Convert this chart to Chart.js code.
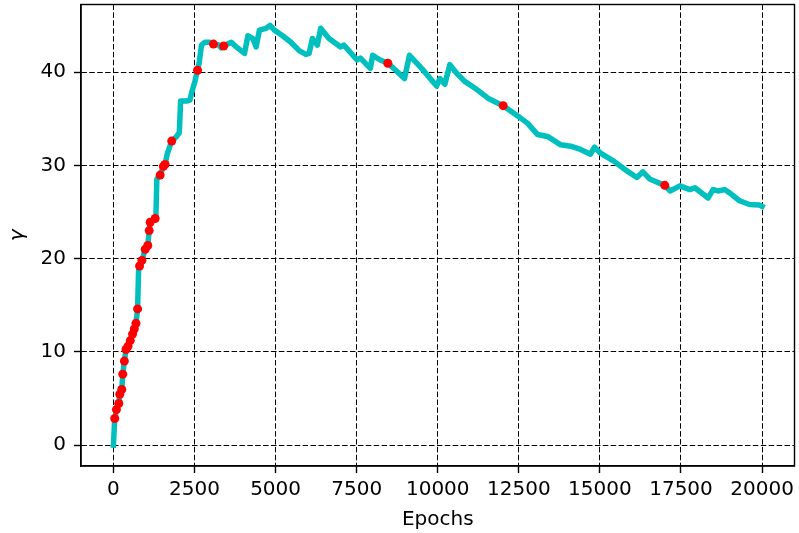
<!DOCTYPE html>
<html>
<head>
<meta charset="utf-8">
<script src="https://cdn.jsdelivr.net/npm/chart.js@4"></script>
<style>
  html, body { margin: 0; padding: 0; background: #fff; }
  canvas { display: block; }
</style>
</head>
<body>
<canvas id="chart" width="799" height="533"></canvas>
<script>
// gamma over training epochs
const epochs = [0, 40, 92, 165, 196, 257, 288, 337, 388, 450, 520, 590, 643, 695, 745, 775, 806, 878, 980, 1060,
  1103, 1133, 1286, 1310, 1338, 1440, 1541, 1593, 1664, 1797, 1950, 2031, 2072, 2256, 2358, 2409, 2511, 2593, 2643, 2715,
  2818, 2971, 3084, 3250, 3318, 3400, 3634, 3788, 4042, 4145, 4298, 4400, 4502, 4706, 4828, 4962, 5217, 5472, 5727, 5931,
  6033, 6135, 6288, 6390, 6646, 7004, 7105, 7514, 7616, 7922, 7993, 8228, 8461, 8686, 8974, 9127, 9504, 9964, 10066, 10219,
  10372, 10576, 10832, 11138, 11547, 12016, 12466, 12772, 13078, 13384, 13792, 14098, 14404, 14710, 14834, 15017, 15426, 15834, 16141, 16325,
  16549, 17000, 17162, 17469, 17775, 17928, 18336, 18489, 18642, 18846, 18999, 19305, 19611, 19917, 20000];
const gamma = [0, 2.85, 3.8, 4.45, 5.45, 5.95, 7.6, 9.0, 10.25, 10.6, 11.2, 11.9, 12.45, 13.05, 14.6, 18.7, 19.2, 19.8, 21.0, 21.4,
  23.0, 23.9, 24.3, 24.5, 28.5, 28.95, 29.9, 30.1, 31.3, 32.6, 33.1, 33.5, 36.9, 36.9, 37.0, 37.75, 39.0, 40.2, 40.95, 42.9,
  43.2, 43.2, 43.0, 42.9, 42.6, 42.8, 43.2, 42.7, 42.0, 43.9, 43.6, 42.7, 44.5, 44.7, 45.0, 44.5, 43.9, 43.2, 42.3, 41.9,
  42.0, 43.6, 42.9, 44.7, 43.6, 42.7, 42.9, 41.3, 41.5, 40.4, 41.8, 41.3, 40.95, 40.25, 39.3, 41.8, 40.4, 38.5, 39.3, 38.7,
  40.8, 39.9, 39.0, 38.3, 37.2, 36.4, 35.3, 34.5, 33.3, 33.1, 32.2, 32.05, 31.7, 31.2, 31.95, 31.3, 30.45, 29.4, 28.7, 29.3,
  28.5, 27.85, 27.25, 27.8, 27.4, 27.6, 26.5, 27.4, 27.25, 27.4, 27.05, 26.2, 25.8, 25.75, 25.6];

// red markers
const dotEpochs = [40, 92, 165, 196, 257, 288, 337, 388, 450, 520, 590, 643, 695, 745, 806, 878, 980, 1060, 1103, 1133,
  1286, 1440, 1541, 1593, 1797, 2593, 3084, 3400, 8461, 12016, 17000];
const dotGamma = [2.85, 3.8, 4.45, 5.45, 5.95, 7.6, 9.0, 10.25, 10.6, 11.2, 11.9, 12.45, 13.05, 14.6, 19.2, 19.8, 21.0, 21.4, 23.0, 23.9,
  24.3, 28.95, 29.9, 30.1, 32.6, 40.2, 43.0, 42.8, 40.95, 36.4, 27.85];

const xTicks = [0, 2500, 5000, 7500, 10000, 12500, 15000, 17500, 20000];
const yTicks = [0, 10, 20, 30, 40];

const FONT = "'DejaVu Sans'";
const tickFont = { family: FONT, size: 20 };
const dash = [5.5, 2.4];

// frame on all four sides, like matplotlib spines
const frame = {
  id: "frame",
  afterDraw(chart) {
    const { ctx, chartArea: a } = chart;
    ctx.save();
    ctx.strokeStyle = "#000";
    ctx.lineWidth = 1.4;
    ctx.strokeRect(a.left, a.top, a.right - a.left, a.bottom - a.top);
    ctx.restore();
  }
};

new Chart(document.getElementById("chart"), {
  type: "line",
  data: {
    datasets: [
      {
        data: dotEpochs.map((x, i) => ({ x, y: dotGamma[i] })),
        showLine: false,
        pointRadius: 4.5,
        pointBackgroundColor: "#ff0000",
        pointBorderWidth: 0,
        order: 0
      },
      {
        data: epochs.map((x, i) => ({ x, y: gamma[i] })),
        borderColor: "#00bfbf",
        borderWidth: 5.5,
        borderJoinStyle: "round",
        borderCapStyle: "square",
        pointRadius: 0,
        tension: 0,
        order: 1
      }
    ]
  },
  options: {
    responsive: false,
    animation: false,
    devicePixelRatio: 1,
    layout: { padding: { top: 3, right: 3, left: 0, bottom: 0 } },
    plugins: { legend: { display: false }, tooltip: { enabled: false } },
    scales: {
      x: {
        type: "linear",
        min: -1000,
        max: 21000,
        afterBuildTicks: (s) => { s.ticks = xTicks.map((v) => ({ value: v })); },
        afterFit: (s) => { s.height = 67; s.paddingLeft = 0; s.paddingRight = 0; },
        ticks: { font: tickFont, color: "#000", padding: 5, maxRotation: 0, autoSkip: false, callback: (v) => String(v) },
        grid: { color: "#000", lineWidth: 1, tickLength: 7, tickColor: "#000", tickWidth: 1.4 },
        border: { display: true, color: "#000", width: 1.4, dash: dash },
        title: { display: true, text: "Epochs", font: tickFont, color: "#000", padding: { top: 2, bottom: 1 } }
      },
      y: {
        min: -2.25,
        max: 47.25,
        afterBuildTicks: (s) => { s.ticks = yTicks.map((v) => ({ value: v })); },
        afterFit: (s) => { s.width = 81; s.paddingTop = 0; s.paddingBottom = 0; },
        ticks: { font: tickFont, color: "#000", padding: 8, callback: (v) => String(v) },
        grid: { color: "#000", lineWidth: 1, tickLength: 7, tickColor: "#000", tickWidth: 1.4 },
        border: { display: true, color: "#000", width: 1.4, dash: dash },
        title: { display: true, text: "γ", font: { family: FONT, size: 20, style: "italic" }, color: "#000", padding: { top: 6, bottom: 2 } }
      }
    }
  },
  plugins: [frame]
});
</script>
</body>
</html>
